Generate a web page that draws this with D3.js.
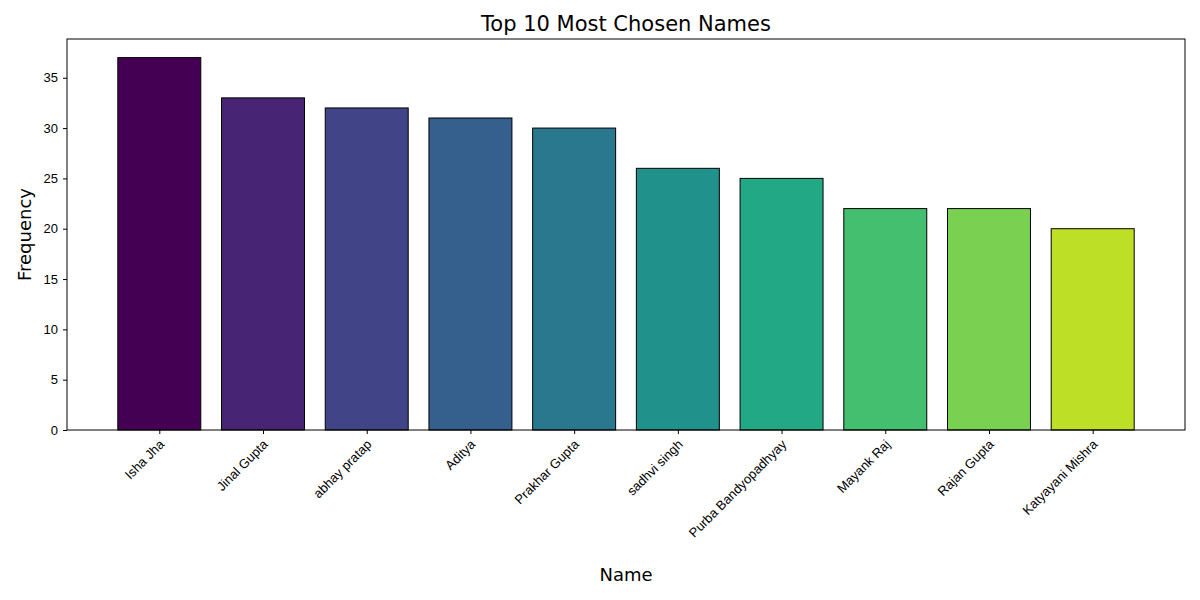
<!DOCTYPE html>
<html><head><meta charset="utf-8">
<script src="https://cdn.jsdelivr.net/npm/d3@7"></script>
<style>body{margin:0;background:#fff}svg{font-family:"DejaVu Sans",sans-serif}</style>
</head><body>
<script>
var names = ['Isha Jha', 'Jinal Gupta', 'abhay pratap', 'Aditya', 'Prakhar Gupta', 'sadhvi singh', 'Purba Bandyopadhyay', 'Mayank Raj', 'Rajan Gupta', 'Katyayani Mishra'];
var counts = [37, 33, 32, 31, 30, 26, 25, 22, 22, 20];
var yTicks = [0, 5, 10, 15, 20, 25, 30, 35];

var width = 1200, height = 600;
var plotLeft = 67, plotRight = 1185, plotTop = 39, plotBottom = 430;

var svg = d3.select('body').append('svg').attr('width', width).attr('height', height);

var x = d3.scaleLinear().domain([-0.89, 9.89]).range([plotLeft, plotRight]);
var y = d3.scaleLinear().domain([0, 38.85]).range([plotBottom, plotTop]);

svg.selectAll('rect.bar').data(counts).enter().append('rect')
  .attr('class', 'bar')
  .attr('x', function (d, i) { return x(i - 0.4); })
  .attr('width', function (d, i) { return x(i + 0.4) - x(i - 0.4); })
  .attr('y', function (d) { return y(d); })
  .attr('height', function (d) { return y(0) - y(d); })
  .attr('fill', function (d, i) { return d3.interpolateViridis(i / 10); })
  .attr('stroke', '#000').attr('stroke-width', 1);

var yAxis = svg.append('g').attr('transform', 'translate(' + plotLeft + ',0)')
  .call(d3.axisLeft(y).tickValues(yTicks).tickSize(4).tickPadding(5));
yAxis.select('.domain').remove();
yAxis.selectAll('text').style('font-size', '13px').attr('fill', '#000');

var xAxis = svg.append('g').attr('transform', 'translate(0,' + plotBottom + ')')
  .call(d3.axisBottom(x).tickValues(d3.range(names.length)).tickSize(4).tickFormat(function (d) { return names[d]; }));
xAxis.select('.domain').remove();
xAxis.selectAll('text').style('font-size', '13px').attr('fill', '#000')
  .attr('text-anchor', 'end').attr('x', 0).attr('y', 0).attr('dy', '0.35em')
  .attr('transform', 'translate(2,12) rotate(-45)');

svg.append('rect').attr('x', plotLeft).attr('y', plotTop).attr('width', plotRight - plotLeft).attr('height', plotBottom - plotTop)
  .attr('fill', 'none').attr('stroke', '#000');

svg.append('text').attr('x', (plotLeft + plotRight) / 2).attr('y', 31).attr('text-anchor', 'middle')
  .style('font-size', '21px').text('Top 10 Most Chosen Names');
svg.append('text').attr('x', (plotLeft + plotRight) / 2).attr('y', 581).attr('text-anchor', 'middle')
  .style('font-size', '18px').text('Name');
svg.append('text').attr('transform', 'translate(31,' + (plotTop + plotBottom) / 2 + ') rotate(-90)').attr('text-anchor', 'middle')
  .style('font-size', '18px').text('Frequency');
</script>
</body></html>
